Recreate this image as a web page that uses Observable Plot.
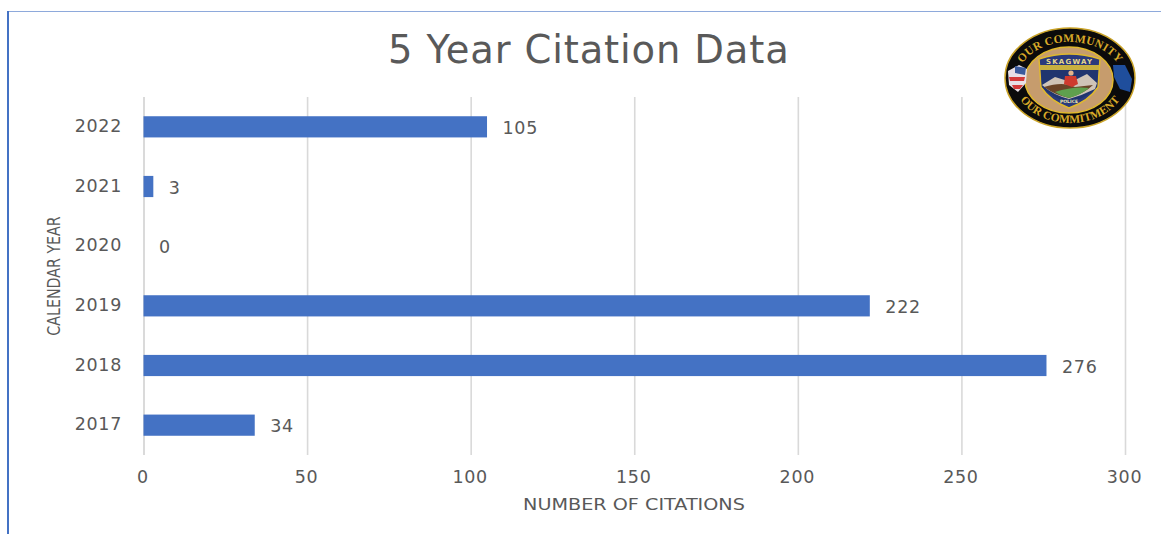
<!DOCTYPE html>
<html><head><meta charset="utf-8">
<script src="https://cdn.jsdelivr.net/npm/d3@7"></script>
<script src="https://cdn.jsdelivr.net/npm/@observablehq/plot@0.6"></script>
<style>
html,body{margin:0;padding:0;background:#fff;width:1161px;height:534px;overflow:hidden}
#wrap{position:relative;width:1161px;height:534px;font-family:"DejaVu Sans",sans-serif}
#plot svg{position:absolute;left:0;top:0}
#top{position:absolute;left:8px;top:11px;right:0;height:1px;background:#8ea9db}
#left{position:absolute;left:7px;top:11px;bottom:0;width:2px;background:#4472c4}
#title{position:absolute;left:388px;top:27px;font-size:38.5px;line-height:46px;color:#595959;white-space:nowrap;letter-spacing:.85px}
#logo{position:absolute;left:1003px;top:27px}
</style></head><body>
<div id="wrap">
<div id="top"></div><div id="left"></div>
<div id="plot"></div>
<div id="title">5 Year Citation Data</div>
<svg id="logo" width="134" height="102" viewBox="0 0 134 102">
<defs>
<path id="arcT" d="M 15 51 A 52 36 0 0 1 119 51"/>
<path id="arcB" d="M 10 51 A 57 45 0 0 0 124 51"/>
</defs>
<ellipse cx="67" cy="51" rx="65" ry="50" fill="#0b0b0b" stroke="#c9a227" stroke-width="1.5"/>
<ellipse cx="66" cy="53" rx="44" ry="33" fill="#c69c6d" stroke="#e0b92e" stroke-width="1.5"/>
<path d="M5 44 L16 38 L24 42 L23 56 L15 65 L6 58 Z" fill="#e8dfe6"/>
<path d="M12 39 L23 41 L22 48 L12 46 Z" fill="#3a5a9c"/>
<path d="M6 50 L22 50 L21 54 L7 54 Z M9 58 L20 58 L17 62 L11 62 Z" fill="#d43a3a"/>
<path d="M110 38 L122 38 L129 52 L127 65 L117 62 L111 50 Z" fill="#1f4e9c"/>
<path d="M36 32 Q66 22 97 32 L95 60 Q86 74 66 81 Q47 74 38 60 Z" fill="#2b3a7c" stroke="#e0b92e" stroke-width="1.5"/>
<rect x="37" y="38" width="59" height="5" fill="#c8b040"/>
<path d="M38 43 L95 43 L94 60 Q86 70 66 76 Q48 70 39 60 Z" fill="#20356f"/>
<path d="M39 58 L52 50 L68 55 L84 47 L94 56 L92 62 Q80 68 66 72 Q50 68 39 58Z" fill="#cfc4b8"/>
<path d="M41 60 Q60 54 72 60 L90 58 Q82 66 66 71 Q52 68 41 60Z" fill="#6a4428"/>
<path d="M52 65 Q70 59 86 61 Q78 68 66 71 Q58 69 52 65Z" fill="#5fa04e"/>
<circle cx="68" cy="46" r="2.6" fill="#e3b48b"/>
<path d="M62 49 h11 l2 8 l-6 3 l-8 -3z" fill="#cf3a2e"/>
<text x="66" y="36.500" text-anchor="middle" font-size="7" font-weight="700" fill="#e6d88a" font-family="DejaVu Sans" textLength="46">SKAGWAY</text>
<text x="66" y="76" text-anchor="middle" font-size="4.500" font-weight="700" fill="#f0e6b0" font-family="DejaVu Sans">POLICE</text>
<text font-size="11.500" fill="#d8a928" font-family="Liberation Serif" font-weight="700" letter-spacing=".3"><textPath href="#arcT" startOffset="50%" text-anchor="middle">OUR COMMUNITY</textPath></text>
<text font-size="11.500" fill="#d8a928" font-family="Liberation Serif" font-weight="700"><textPath href="#arcB" startOffset="50%" text-anchor="middle">OUR COMMITMENT</textPath></text>
</svg>
</div>
<script>
const years = ["2022","2021","2020","2019","2018","2017"];
const citations = [105,3,0,222,276,34];
const xTicks = [0,50,100,150,200,250,300];
const table = years.map((year,i)=>({year,count:citations[i]}));
const textColor = "#595959";
const chart = Plot.plot({
  width:1161,height:534,
  marginLeft:143.5,marginRight:36,marginTop:97,marginBottom:79,
  style:{fontFamily:'"DejaVu Sans",sans-serif',background:"transparent",letterSpacing:"0.7px"},
  x:{domain:[0,300],ticks:xTicks},
  y:{domain:years,paddingInner:0.645,paddingOuter:0.3225,align:0.5,round:false},
  marks:[
    Plot.gridX(xTicks,{stroke:"#d9d9d9",strokeOpacity:1,strokeWidth:1.6}),
    Plot.ruleX([0],{stroke:"#d9d9d9",strokeWidth:1.6}),
    Plot.barX(table,{x:"count",y:"year",fill:"#4472c4"}),
    Plot.text(table,{x:"count",y:"year",text:d=>String(d.count),textAnchor:"start",dx:15,dy:1,fontSize:17.5,fill:textColor}),
    Plot.axisX(xTicks,{tickSize:0,tickPadding:15,fontSize:17.5,color:textColor,label:null,dx:-1}),
    Plot.axisY({tickSize:0,tickPadding:22,fontSize:17.5,color:textColor,label:null,dy:-1})
  ]
});
document.getElementById("plot").appendChild(chart);
const s=d3.select(chart);
s.append("text").attr("transform","translate(54,276) rotate(-90) scale(.79,1)").attr("text-anchor","middle").attr("dy","0.35em").attr("fill",textColor).attr("font-size",18).style("letter-spacing","0").text("CALENDAR YEAR");
s.append("text").attr("transform","translate(634,504) scale(1.2,1)").attr("text-anchor","middle").attr("dy","0.35em").attr("fill",textColor).attr("font-size",16).style("letter-spacing","0").text("NUMBER OF CITATIONS");
</script>
</body></html>
